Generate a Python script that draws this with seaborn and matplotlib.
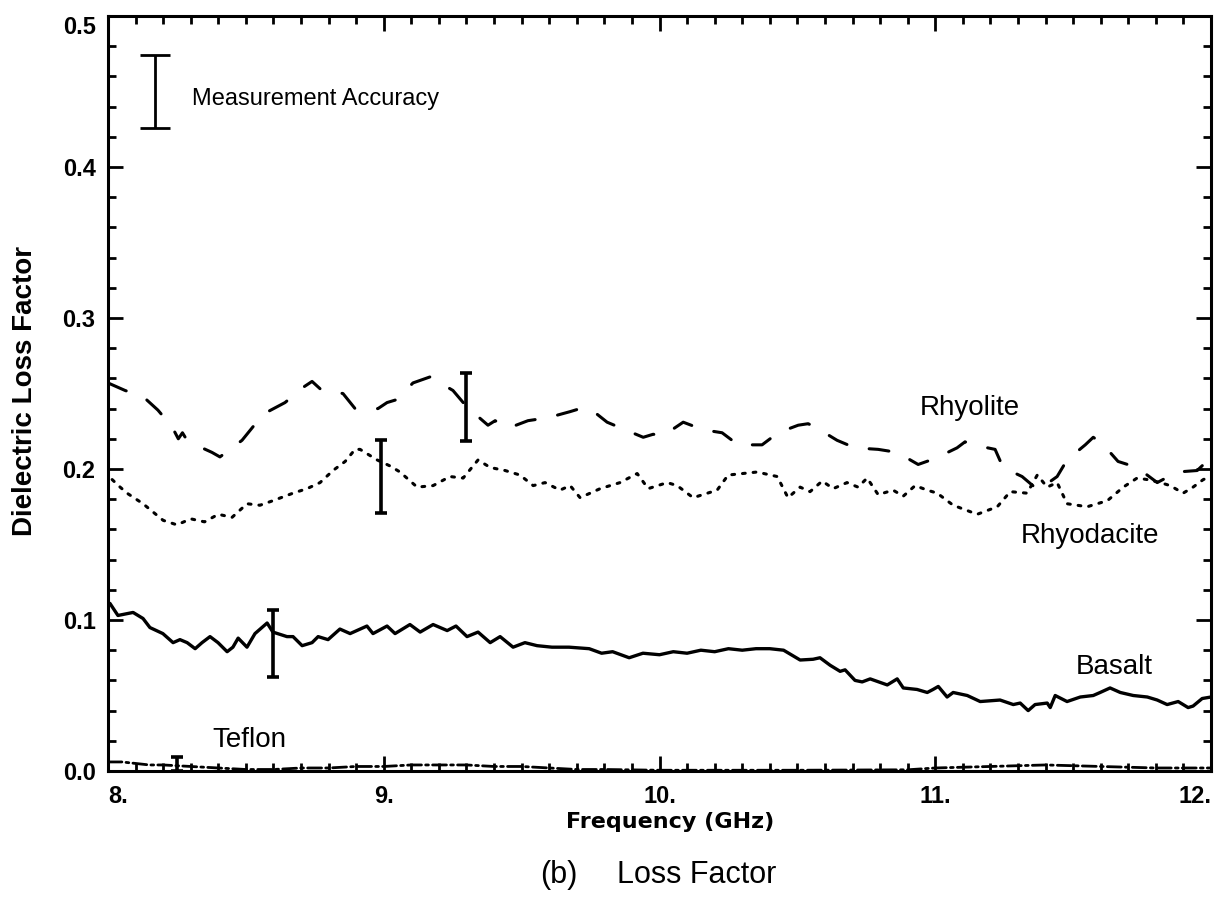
import matplotlib
matplotlib.use("Agg")
import matplotlib.pyplot as plt
import seaborn as sns
import pandas as pd
from matplotlib.ticker import MultipleLocator, FixedLocator

# ---------------- data ----------------
basalt_f = [8.007, 8.036, 8.091, 8.127, 8.152, 8.199, 8.236, 8.261, 8.287, 8.316, 8.341, 8.370,
            8.399, 8.432, 8.453, 8.472, 8.504, 8.533, 8.577, 8.598, 8.649, 8.671, 8.704, 8.740,
            8.762, 8.798, 8.841, 8.878, 8.939, 8.961, 9.012, 9.041, 9.095, 9.132, 9.179, 9.230,
            9.262, 9.302, 9.342, 9.386, 9.422, 9.469, 9.512, 9.556, 9.610, 9.672, 9.745, 9.790,
            9.830, 9.890, 9.940, 10.000, 10.050, 10.100, 10.150, 10.200, 10.250, 10.300, 10.350,
            10.400, 10.450, 10.510, 10.557, 10.582, 10.619, 10.655, 10.673, 10.709, 10.735, 10.764,
            10.826, 10.862, 10.884, 10.934, 10.971, 10.992, 11.011, 11.043, 11.065, 11.116, 11.163,
            11.235, 11.283, 11.308, 11.337, 11.362, 11.406, 11.417, 11.435, 11.478, 11.526, 11.573,
            11.598, 11.634, 11.671, 11.718, 11.769, 11.805, 11.841, 11.881, 11.917, 11.935, 11.968,
            12.000]
basalt_v = [0.111, 0.103, 0.105, 0.101, 0.095, 0.091, 0.085, 0.087, 0.085, 0.081, 0.085, 0.089,
            0.085, 0.079, 0.082, 0.088, 0.082, 0.091, 0.098, 0.092, 0.089, 0.089, 0.083, 0.085,
            0.089, 0.087, 0.094, 0.091, 0.096, 0.091, 0.096, 0.091, 0.097, 0.092, 0.097, 0.093,
            0.096, 0.089, 0.092, 0.085, 0.089, 0.082, 0.085, 0.083, 0.082, 0.082, 0.081, 0.078,
            0.079, 0.075, 0.078, 0.077, 0.079, 0.078, 0.080, 0.079, 0.081, 0.080, 0.081,
            0.081, 0.080, 0.0735, 0.074, 0.075, 0.070, 0.066, 0.067, 0.060, 0.059, 0.061,
            0.057, 0.061, 0.055, 0.054, 0.052, 0.054, 0.056, 0.049, 0.052, 0.050, 0.046,
            0.047, 0.044, 0.045, 0.040, 0.044, 0.045, 0.042, 0.050, 0.046, 0.049, 0.050,
            0.052, 0.055, 0.052, 0.050, 0.049, 0.047, 0.044, 0.046, 0.042, 0.043, 0.048,
            0.049]

rhyolite_f = [8.000, 8.062, 8.127, 8.181, 8.232, 8.255, 8.270, 8.280, 8.341, 8.377, 8.406, 8.486,
              8.526, 8.580, 8.642, 8.707, 8.740, 8.776, 8.852, 8.896, 8.979, 9.012, 9.048, 9.106,
              9.168, 9.251, 9.302, 9.378, 9.404, 9.451, 9.523, 9.596, 9.676, 9.712, 9.748, 9.810,
              9.875, 9.941, 9.977, 10.013, 10.086, 10.158, 10.227, 10.285, 10.372, 10.430, 10.503,
              10.539, 10.572, 10.644, 10.709, 10.793, 10.862, 10.938, 11.000, 11.079, 11.108, 11.137,
              11.217, 11.246, 11.315, 11.373, 11.442, 11.478, 11.544, 11.573, 11.605, 11.663, 11.732,
              11.805, 11.877, 11.950, 11.990]
rhyolite_v = [0.257, 0.252, 0.248, 0.239, 0.228, 0.220, 0.224, 0.221, 0.214, 0.211, 0.208, 0.219,
              0.228, 0.238, 0.244, 0.254, 0.258, 0.252, 0.250, 0.240, 0.240, 0.244, 0.246, 0.257,
              0.261, 0.252, 0.241, 0.229, 0.232, 0.227, 0.232, 0.234, 0.238, 0.240, 0.240, 0.231,
              0.226, 0.221, 0.223, 0.222, 0.231, 0.226, 0.224, 0.216, 0.216, 0.224, 0.229,
              0.230, 0.227, 0.219, 0.214, 0.213, 0.211, 0.203, 0.207, 0.214, 0.218, 0.216,
              0.213, 0.201, 0.195, 0.186, 0.195, 0.206, 0.216, 0.221, 0.217, 0.205, 0.201,
              0.191, 0.198, 0.199, 0.206]

rhyodacite_f = [8.015, 8.044, 8.069, 8.127, 8.200, 8.250, 8.300, 8.350, 8.400, 8.450, 8.504, 8.551,
                8.598, 8.671, 8.722, 8.769, 8.816, 8.860, 8.896, 8.914, 8.976, 9.023, 9.059, 9.121,
                9.179, 9.240, 9.288, 9.342, 9.386, 9.440, 9.494, 9.542, 9.585, 9.639, 9.676, 9.712,
                9.785, 9.857, 9.919, 9.959, 10.028, 10.064, 10.122, 10.209, 10.249, 10.354, 10.427,
                10.466, 10.510, 10.546, 10.590, 10.630, 10.680, 10.720, 10.753, 10.793, 10.847, 10.884,
                10.927, 10.971, 11.007, 11.065, 11.152, 11.225, 11.272, 11.333, 11.370, 11.406, 11.442,
                11.478, 11.551, 11.624, 11.682, 11.732, 11.769, 11.816, 11.852, 11.899, 11.935, 11.972,
                12.000]
rhyodacite_v = [0.193, 0.188, 0.184, 0.177, 0.166, 0.163, 0.167, 0.165, 0.170, 0.168, 0.177, 0.176,
                0.179, 0.184, 0.187, 0.191, 0.199, 0.205, 0.213, 0.213, 0.206, 0.202, 0.198, 0.188,
                0.189, 0.195, 0.194, 0.206, 0.201, 0.199, 0.196, 0.189, 0.191, 0.186, 0.189, 0.181,
                0.187, 0.191, 0.197, 0.187, 0.191, 0.189, 0.181, 0.186, 0.196, 0.198, 0.195,
                0.181, 0.188, 0.185, 0.192, 0.187, 0.191, 0.188, 0.194, 0.183, 0.186, 0.182,
                0.189, 0.186, 0.184, 0.176, 0.170, 0.175, 0.185, 0.184, 0.196, 0.188, 0.191,
                0.177, 0.175, 0.179, 0.188, 0.194, 0.193, 0.191, 0.189, 0.184, 0.188, 0.193,
                0.195]

teflon_f = [8.00, 8.05, 8.10, 8.15, 8.20, 8.30, 8.40, 8.50, 8.60, 8.70, 8.80, 8.90, 9.00, 9.10,
            9.20, 9.30, 9.40, 9.50, 9.60, 9.70, 9.80, 10.00, 10.50, 10.90, 11.00, 11.20, 11.40,
            11.60, 11.80, 12.00]
teflon_v = [0.006, 0.006, 0.005, 0.004, 0.004, 0.003, 0.002, 0.001, 0.001, 0.002, 0.002, 0.003,
            0.003, 0.004, 0.004, 0.004, 0.003, 0.003, 0.002, 0.001, 0.001, 0.0005, 0.0005, 0.0008,
            0.002, 0.003, 0.004, 0.003, 0.002, 0.002]

# error bars: (frequency, center, half-width)
err_f = [9.30, 8.99, 8.60, 8.25]
err_c = [0.241, 0.195, 0.0845, 0.0045]
err_h = [0.0225, 0.024, 0.022, 0.0045]
acc_f, acc_c, acc_h = 8.17, 0.450, 0.024

x_ticks = [8, 9, 10, 11, 12]
x_ticklabels = ["8.", "9.", "10.", "11.", "12."]
y_ticks = [0.0, 0.1, 0.2, 0.3, 0.4, 0.5]
y_ticklabels = ["0.0", "0.1", "0.2", "0.3", "0.4", "0.5"]

labels = ["Rhyolite", "Rhyodacite", "Basalt", "Teflon"]
label_pos = [(10.944, 0.236), (11.309, 0.151), (11.508, 0.064), (8.377, 0.0159)]

# ---------------- style ----------------
sns.set_style("ticks")
plt.rcParams['font.family'] = ['Liberation Sans', 'DejaVu Sans']
plt.rcParams['text.color'] = 'black'
plt.rcParams['axes.labelcolor'] = 'black'
plt.rcParams['xtick.color'] = 'black'
plt.rcParams['ytick.color'] = 'black'
plt.rcParams['axes.edgecolor'] = 'black'

W, H = 1227, 897
fig = plt.figure(figsize=(W / 100, H / 100), dpi=100)
ax = fig.add_axes([108 / W, 1 - 771 / H, (1211 - 108) / W, (771 - 16) / H])

def draw(f, v, dashes, lw=2.2):
    df = pd.DataFrame({"f": f, "v": v})
    n0 = len(ax.lines)
    sns.lineplot(data=df, x="f", y="v", ax=ax, color="black", lw=lw,
                 sort=False, estimator=None, legend=False)
    ln = ax.lines[n0]
    if dashes is not None:
        ln.set_dashes(dashes)
    ln.set_solid_joinstyle("round")
    ln.set_dash_capstyle("round")

draw(basalt_f, basalt_v, None, lw=2.4)
draw(rhyolite_f, rhyolite_v, (6.5, 7.5), lw=2.2)
draw(rhyodacite_f, rhyodacite_v, (0.9, 2.6), lw=2.2)
draw(teflon_f, teflon_v, (5, 1.5, 1, 1.5), lw=2.0)

ax.errorbar(err_f, err_c, yerr=err_h, fmt="none", ecolor="black",
            elinewidth=2.6, capsize=4.5, capthick=2.6)
ax.errorbar([acc_f], [acc_c], yerr=[acc_h], fmt="none", ecolor="black",
            elinewidth=2.0, capsize=11, capthick=2.0)

ax.set_xlim(8, 12)
ax.set_ylim(0, 0.5)
ax.xaxis.set_major_locator(FixedLocator(x_ticks))
ax.yaxis.set_major_locator(FixedLocator(y_ticks))
ax.xaxis.set_minor_locator(MultipleLocator(0.1))
ax.yaxis.set_minor_locator(MultipleLocator(0.02))
ax.set_xticklabels(x_ticklabels, fontsize=17, fontweight="bold", color="black")
ax.set_yticklabels(y_ticklabels, fontsize=17, fontweight="bold", color="black")
xl = ax.get_xticklabels()
xl[0].set_ha("left")
xl[-1].set_ha("right")
ax.get_yticklabels()[-1].set_va("top")

ax.tick_params(which="both", direction="in", top=True, right=True, width=2, color="black")
ax.tick_params(which="major", length=11)
ax.tick_params(which="minor", length=6)
ax.tick_params(axis="x", which="major", pad=10)
ax.tick_params(axis="y", which="major", pad=9)
for s in ax.spines.values():
    s.set_linewidth(2.2)
    s.set_color("black")
ax.set_xlabel("")
ax.set_ylabel("")

for t, (px, py) in zip(labels, label_pos):
    ax.text(px, py, t, fontsize=20, ha="left", va="baseline", color="black")
ax.text(8.305, 0.441, "Measurement Accuracy", fontsize=17, ha="left", va="baseline",
        color="black")

fig.text(25 / W, 1 - 391 / H, "Dielectric Loss Factor", rotation=90, fontsize=20,
         fontweight="bold", ha="center", va="center", color="black")
fig.text(670 / W, 1 - 828 / H, "Frequency (GHz)", fontsize=16, fontweight="bold",
         family=["DejaVu Sans"], ha="center", va="baseline", color="black")
fig.text(540 / W, 1 - 883 / H, "(b)", fontsize=22, ha="left", va="baseline", color="black")
fig.text(617 / W, 1 - 883 / H, "Loss Factor", fontsize=22, ha="left", va="baseline",
         color="black")

fig.savefig("out.png", dpi=100, facecolor="white")
